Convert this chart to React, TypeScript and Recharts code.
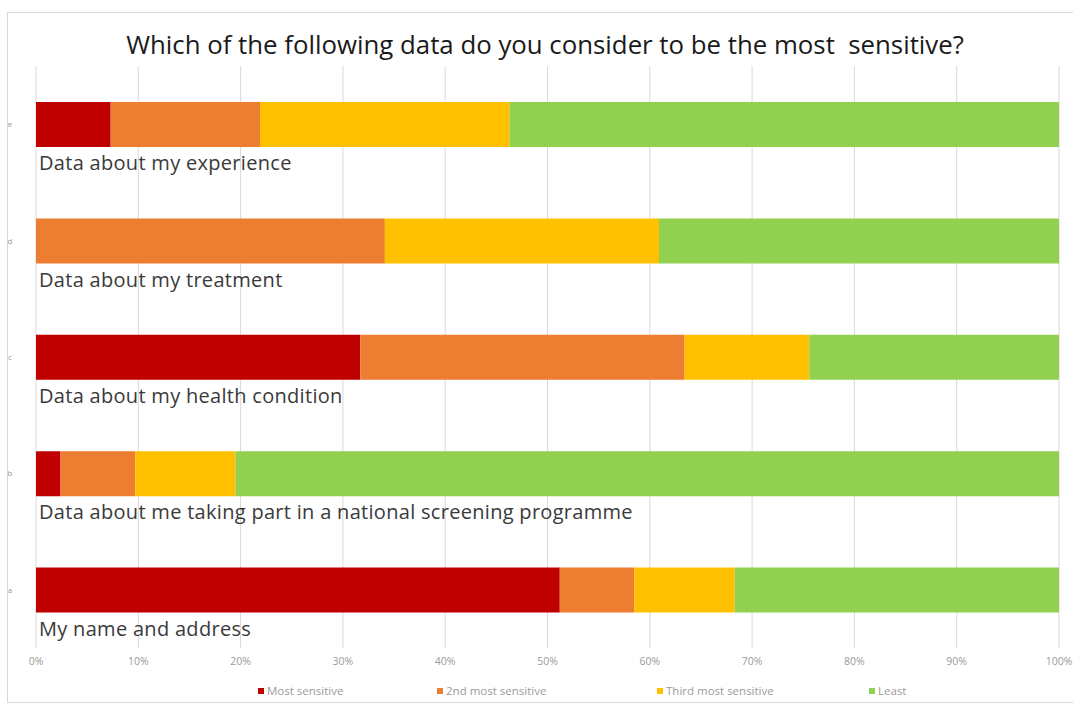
import React from "react";
import { BarChart, Bar, XAxis, YAxis, CartesianGrid, Legend } from "recharts";

const categories = ["e", "d", "c", "b", "a"];
const categoryNames = [
  "Data about my experience",
  "Data about my treatment",
  "Data about my health condition",
  "Data about me taking part in a national screening programme",
  "My name and address",
];
const mostSensitive = [7.3, 0, 31.7, 2.4, 51.2];
const secondMost = [14.6, 34.1, 31.7, 7.3, 7.3];
const thirdMost = [24.4, 26.8, 12.2, 9.8, 9.8];
const least = [53.7, 39.1, 24.4, 80.5, 31.7];
const xTicks = [0, 10, 20, 30, 40, 50, 60, 70, 80, 90, 100];

const seriesNames = ["Most sensitive", "2nd most sensitive", "Third most sensitive", "Least"];
const seriesKeys = ["most", "second", "third", "least"];
const seriesColors = ["#C00000", "#ED7D31", "#FFC000", "#92D050"];
const legendLefts = [258, 437, 657, 869];

const data = categories.map((c, i) => ({
  cat: c,
  name: categoryNames[i],
  most: mostSensitive[i],
  second: secondMost[i],
  third: thirdMost[i],
  least: least[i],
}));

const FONT = "'Open Sans', 'Noto Sans', sans-serif";

const YTick = (props: any) => {
  const { y, payload, index } = props;
  return (
    <g>
      <text x={10} y={y} dy={3} fontSize={8} fill="#9a9a9a" fontFamily={FONT} textAnchor="middle">
        {payload.value}
      </text>
      <text x={39} y={y + 40} dy={6} fontSize={20} letterSpacing={0.3} fill="#3a3a3a" fontFamily={FONT}>
        {categoryNames[index]}
      </text>
    </g>
  );
};

const LegendContent = () => (
  <div style={{ position: "relative", height: 15, fontFamily: FONT, fontSize: 11.5, color: "#9a9a9a" }}>
    {seriesNames.map((n, i) => (
      <div key={n} style={{ position: "absolute", left: legendLefts[i], top: 0, display: "flex", alignItems: "center", whiteSpace: "nowrap" }}>
        <span style={{ width: 6, height: 6, background: seriesColors[i], marginRight: 3, display: "inline-block" }} />
        <span>{n}</span>
      </div>
    ))}
  </div>
);

export default function App() {
  return (
    <div style={{ position: "absolute", left: 0, top: 0, width: 1073, height: 707, background: "#fff", overflow: "hidden" }}>
      <div
        style={{
          position: "absolute",
          left: 7,
          top: 12,
          width: 1080,
          height: 691,
          border: "1px solid #d9d9d9",
          boxSizing: "border-box",
        }}
      />
      <div
        style={{
          position: "absolute",
          left: 0,
          top: 26,
          width: 1090,
          textAlign: "center",
          fontFamily: FONT,
          fontSize: 25.8,
          color: "#1a1a1a",
          whiteSpace: "pre",
        }}
      >
        {"Which of the following data do you consider to be the most  sensitive?"}
      </div>
      <div style={{ position: "absolute", left: 0, top: 0 }}>
        <BarChart
          width={1073}
          height={707}
          data={data}
          layout="vertical"
          margin={{ top: 66, right: 14, left: 0, bottom: 0 }}
          barSize={45}
        >
          <CartesianGrid horizontal={false} stroke="#d9d9d9" />
          <XAxis
            type="number"
            domain={[0, 100]}
            ticks={xTicks}
            tickFormatter={(v: number) => `${v}%`}
            axisLine={false}
            tickLine={false}
            height={44}
            tick={{ fontSize: 10.5, fill: "#9a9a9a", fontFamily: FONT }}
            tickMargin={4}
            interval={0}
          />
          <YAxis
            type="category"
            dataKey="cat"
            width={36}
            axisLine={false}
            tickLine={false}
            tick={<YTick />}
            interval={0}
          />
          <Legend
            content={<LegendContent />}
            wrapperStyle={{ position: "absolute", top: 683, left: 0, width: 1073 }}
          />
          {seriesKeys.map((k, i) => (
            <Bar key={k} dataKey={k} name={seriesNames[i]} stackId="s" fill={seriesColors[i]} isAnimationActive={false} />
          ))}
        </BarChart>
      </div>
    </div>
  );
}
